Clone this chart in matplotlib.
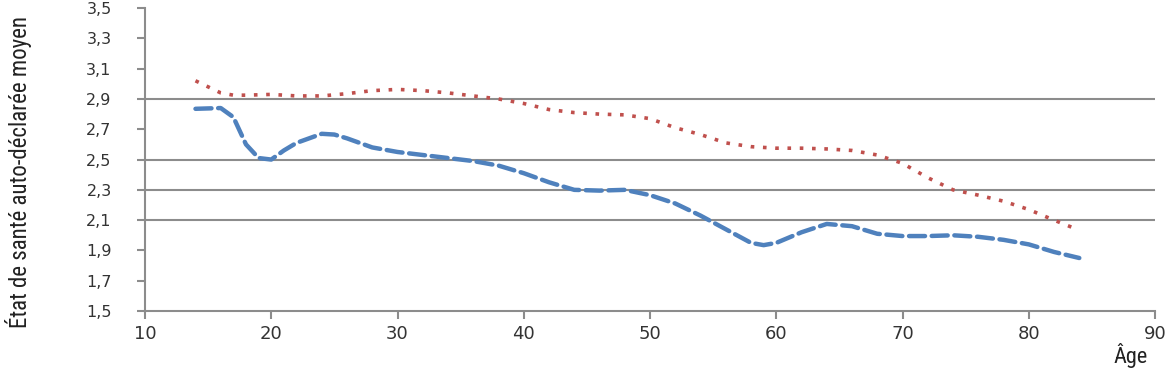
import matplotlib
matplotlib.use("Agg")
import matplotlib.pyplot as plt

# Data
ages_blue = [14, 16, 17, 18, 19, 20, 21, 22, 24, 25, 26, 28, 30, 32, 34, 36, 38, 40,
             42, 44, 46, 48, 50, 52, 54, 56, 58, 59, 60, 62, 64, 66, 68, 70, 72, 74,
             76, 78, 80, 82, 84]
vals_blue = [2.835, 2.84, 2.78, 2.60, 2.51, 2.50, 2.56, 2.61, 2.67, 2.665, 2.64, 2.58,
             2.55, 2.53, 2.51, 2.49, 2.46, 2.41, 2.35, 2.30, 2.295, 2.30, 2.265, 2.21,
             2.13, 2.04, 1.95, 1.935, 1.95, 2.02, 2.075, 2.06, 2.01, 1.995, 1.995, 2.0,
             1.99, 1.97, 1.94, 1.89, 1.85]

ages_red = [14, 16, 17, 18, 20, 22, 24, 26, 28, 30, 32, 34, 36, 38, 40, 42, 44, 46, 48,
            50, 52, 54, 56, 58, 60, 62, 64, 66, 68, 70, 72, 74, 76, 78, 80, 82, 83.5]
vals_red = [3.02, 2.94, 2.925, 2.925, 2.93, 2.92, 2.92, 2.935, 2.955, 2.963, 2.955,
            2.94, 2.92, 2.90, 2.87, 2.83, 2.81, 2.80, 2.795, 2.77, 2.71, 2.665, 2.61,
            2.585, 2.575, 2.575, 2.57, 2.56, 2.53, 2.475, 2.38, 2.30, 2.265, 2.225,
            2.17, 2.10, 2.05]

x_ticks = [10, 20, 30, 40, 50, 60, 70, 80, 90]
y_ticks = [1.5, 1.7, 1.9, 2.1, 2.3, 2.5, 2.7, 2.9, 3.1, 3.3, 3.5]
y_tick_labels = ["1,5", "1,7", "1,9", "2,1", "2,3", "2,5", "2,7", "2,9", "3,1", "3,3", "3,5"]
grid_values = [2.1, 2.3, 2.5, 2.9]

narrow = ["Roboto Condensed", "Liberation Sans Narrow", "Roboto", "DejaVu Sans"]

fig = plt.figure(figsize=(11.73, 3.84), dpi=100)
ax = fig.add_axes([0.1236, 0.190, 0.8611, 0.789])

gray = "#8c8c8c"
for g in grid_values:
    ax.axhline(g, color=gray, lw=1.5, zorder=1)

ax.plot(ages_red, vals_red, color="#C0504D", lw=2.6, linestyle=(0, (1, 2.4)),
        dash_capstyle="butt", zorder=3)
ax.plot(ages_blue, vals_blue, color="#4F81BD", lw=3.2, linestyle=(0, (3.6, 1.5)),
        dash_capstyle="round", zorder=3)

ax.set_xlim(10, 90)
ax.set_ylim(1.5, 3.5)
ax.set_xticks(x_ticks)
ax.set_xticklabels([str(t) for t in x_ticks])
ax.set_yticks(y_ticks)
ax.set_yticklabels(y_tick_labels)

for s in ["top", "right"]:
    ax.spines[s].set_visible(False)
for s in ["left", "bottom"]:
    ax.spines[s].set_color(gray)
    ax.spines[s].set_linewidth(1.5)

ax.tick_params(axis="both", colors=gray, length=6, width=1.5, direction="out")
ax.tick_params(axis="x", labelcolor="#333333", labelsize=13, pad=4)
ax.tick_params(axis="y", labelcolor="#333333", labelsize=11.5, pad=18)

ax.set_ylabel("État de santé auto-déclarée moyen", family=narrow, fontsize=16.5,
              color="#222222")
ax.yaxis.set_label_coords(-0.112, 0.46)

fig.text(0.964, 0.073, "Âge", family=narrow, fontsize=16, color="#222222",
         ha="center", va="center")

fig.savefig("out.png", dpi=100, facecolor="white")
